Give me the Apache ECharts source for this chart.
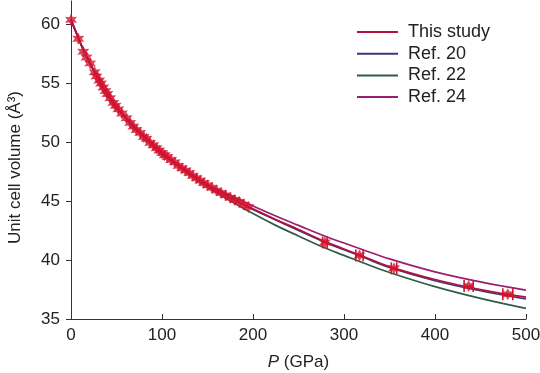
<!DOCTYPE html>
<html>
<head>
<meta charset="utf-8">
<script src="https://cdn.jsdelivr.net/npm/echarts@6/dist/echarts.min.js"></script>
<style>html,body{margin:0;padding:0;background:#fff}#c{width:540px;height:373px}</style>
</head>
<body>
<div id="c"></div>
<script>
// Pressure grid (GPa) at which curves were read
const P_CURVE = [0,5,10,15,20,25,30,40,50,60,70,80,90,100,125,150,175,200,225,250,280,300,320,350,400,450,500];
const V_THIS  = [60.4,59.45,58.5,57.6,56.85,56.1,55.4,54.1,53.0,52.1,51.25,50.5,49.8,49.1,47.65,46.35,45.3,44.35,43.45,42.6,41.55,40.95,40.35,39.45,38.35,37.5,36.85];
const V_REF20 = [60.4,59.45,58.5,57.6,56.85,56.1,55.4,54.1,53.0,52.1,51.25,50.5,49.8,49.1,47.63,46.33,45.28,44.3,43.4,42.52,41.48,40.88,40.28,39.38,38.25,37.4,36.7];
const V_REF22 = [60.4,59.43,58.48,57.58,56.82,56.07,55.37,54.06,52.96,52.05,51.2,50.44,49.73,49.05,47.55,46.2,45.05,43.95,42.95,42.05,41.0,40.4,39.8,38.95,37.75,36.75,35.9];
const V_REF24 = [60.4,59.46,58.52,57.62,56.87,56.12,55.43,54.13,53.04,52.14,51.3,50.55,49.86,49.15,47.72,46.45,45.5,44.6,43.75,42.95,42.0,41.45,40.9,40.1,39.0,38.15,37.45];

// Measured points (this study)
const PTS_P = [0,8,13.5,17,21,26,28,31,33,35.5,38,40,43,46.5,49,52,56,61,65,68.5,72,76,80,83,87,90.5,94,97,100,103,106,110,114,118,122,126,130,134,138,142,146,150,155,160,165,170,175,180,185,190,195,279,317,355,437,480];
const PTS_V = [60.4,58.8,57.7,57.2,56.7,55.95,55.6,55.25,55.0,54.65,54.35,54.1,53.75,53.35,53.1,52.8,52.45,52.05,51.65,51.35,51.05,50.8,50.45,50.3,49.95,49.75,49.5,49.3,49.1,48.9,48.75,48.5,48.3,48.0,47.8,47.6,47.4,47.15,46.95,46.75,46.55,46.35,46.15,45.9,45.7,45.5,45.3,45.1,44.95,44.7,44.5,41.5,40.4,39.3,37.8,37.1];
// Horizontal error bars on the high-pressure points
const ERR_P = [279,317,355,437,480];
const ERR_V = [41.5,40.4,39.3,37.8,37.1];
const ERR_X = [2.5,4,3,5,5.5];

const SERIES_NAMES = ['This study','Ref. 20','Ref. 22','Ref. 24'];
const X_TICKS = [0,100,200,300,400,500];
const Y_TICKS = [35,40,45,50,55,60];

const zip = (a,b) => a.map((x,i)=>[x,b[i]]);
const STAR = 'path://M0,-10 L2.6,-4.5 L8.7,-5 L5.2,0 L8.7,5 L2.6,4.5 L0,10 L-2.6,4.5 L-8.7,5 L-5.2,0 L-8.7,-5 L-2.6,-4.5 Z';

const chart = echarts.init(document.getElementById('c'), null, {renderer:'canvas'});
const FONT = 'Liberation Sans, Arial, Helvetica, sans-serif';
const lineSeries = (name, data, color, z) => ({
  name, type:'line', data, smooth:0.4, symbol:'none', z,
  lineStyle:{color, width:1.7}, itemStyle:{color}
});
chart.setOption({
  animation:false,
  textStyle:{fontFamily:FONT},
  grid:{left:71, right:14, top:1, bottom:54, containLabel:false, outerBoundsMode:'none'},
  legend:{
    data:SERIES_NAMES, orient:'vertical', left:352, top:17,
    icon:'rect', itemWidth:41, itemHeight:2, itemGap:1.7,
    textStyle:{fontSize:18, color:'#222', lineHeight:20, padding:[0,0,0,5], fontFamily:FONT}
  },
  xAxis:{
    type:'value', min:0, max:500, interval:100,
    axisLine:{lineStyle:{color:'#333', width:1}},
    axisTick:{inside:true, length:5, lineStyle:{color:'#333'}, customValues:X_TICKS},
    splitLine:{show:false},
    axisLabel:{fontSize:17, color:'#222', margin:8, fontFamily:FONT, customValues:X_TICKS},
    name:'{i|P} (GPa)', nameLocation:'middle', nameGap:35,
    nameTextStyle:{fontSize:17, color:'#222', fontFamily:FONT,
      rich:{i:{fontStyle:'italic', fontSize:17, color:'#222', fontFamily:FONT}}}
  },
  yAxis:{
    type:'value', min:35, max:62, interval:5,
    axisLine:{show:true, lineStyle:{color:'#333', width:1}},
    axisTick:{show:true, inside:false, length:5, lineStyle:{color:'#333'}, customValues:Y_TICKS},
    splitLine:{show:false},
    axisLabel:{fontSize:17, color:'#222', margin:11, fontFamily:FONT, customValues:Y_TICKS},
    name:'Unit cell volume (Å³)', nameLocation:'middle', nameGap:47, nameRotate:90,
    nameTextStyle:{fontSize:17, color:'#222', fontFamily:FONT, padding:[0,15,0,0]}
  },
  series:[
    lineSeries('Ref. 22', zip(P_CURVE,V_REF22), '#2f5d45', 2),
    lineSeries('Ref. 20', zip(P_CURVE,V_REF20), '#3b3677', 3),
    lineSeries('Ref. 24', zip(P_CURVE,V_REF24), '#9a1f72', 4),
    lineSeries('This study', zip(P_CURVE,V_THIS), '#b5123c', 5),
    {
      name:'errors', type:'custom', z:6,
      data: ERR_P.map((p,i)=>[p, ERR_V[i], ERR_X[i]]),
      renderItem:(params, api)=>{
        const p=api.value(0), v=api.value(1), e=api.value(2);
        const a=api.coord([p-e,v]), b=api.coord([p+e,v]);
        const st={stroke:'#d3132e', lineWidth:1.6};
        return {type:'group', children:[
          {type:'line', shape:{x1:a[0],y1:a[1],x2:b[0],y2:b[1]}, style:st},
          {type:'line', shape:{x1:a[0],y1:a[1]-6,x2:a[0],y2:a[1]+6}, style:st},
          {type:'line', shape:{x1:b[0],y1:b[1]-6,x2:b[0],y2:b[1]+6}, style:st}
        ]};
      }
    },
    {
      name:'points', type:'scatter', z:7,
      data: zip(PTS_P, PTS_V),
      symbol:STAR, symbolSize:12,
      itemStyle:{color:'#d3132e'}
    }
  ]
});
</script>
</body>
</html>
